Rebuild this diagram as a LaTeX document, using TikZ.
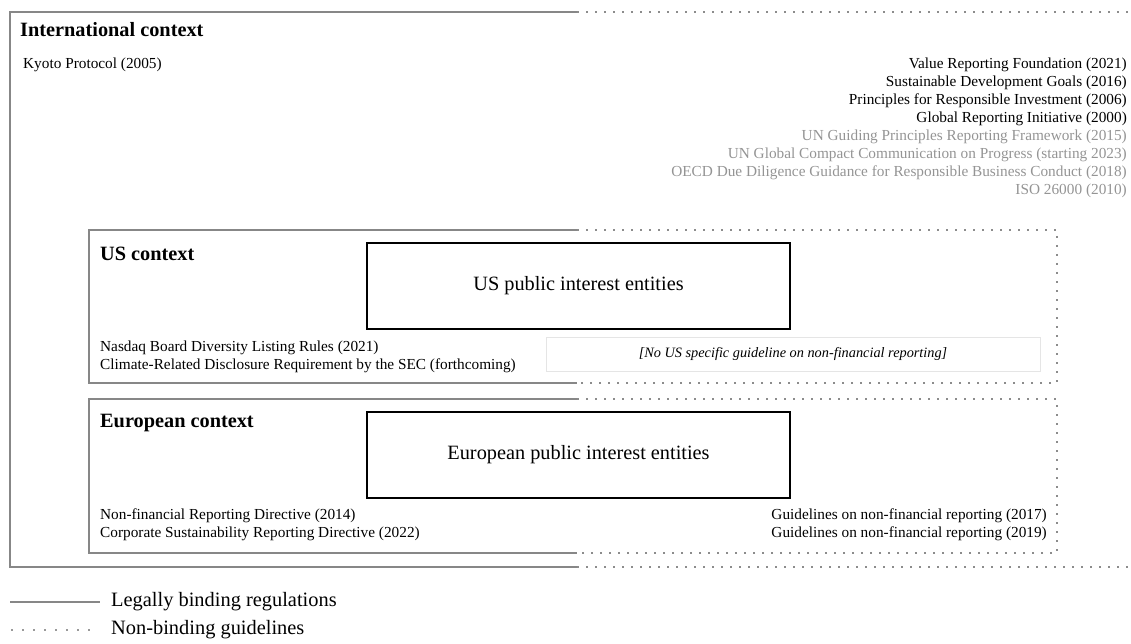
\documentclass[tikz,border=0pt]{standalone}
\usepackage{fontspec}
\setmainfont{Liberation Serif}
\begin{document}
\begin{tikzpicture}[x=1pt,y=-1pt,
  solidln/.style={draw=black!47,line width=2.8pt},
  dotln/.style={draw=black!45,line width=1.8pt,dash pattern=on 1.8pt off 7.2pt},
  legdot/.style={draw=black!40,line width=1.8pt,dash pattern=on 1.8pt off 9.2pt},
  entity/.style={draw=black,line width=2.4pt,minimum width=423pt,minimum height=86pt,font=\fontsize{20.3}{24}\selectfont},
  head/.style={anchor=west,inner sep=0pt,font=\fontsize{20.3}{24}\selectfont\bfseries},
  item/.style={inner sep=0pt,font=\fontsize{15.3}{18}\selectfont},
  gitem/.style={item,text=black!42},
  legend/.style={anchor=west,inner sep=0pt,font=\fontsize{20.4}{24}\selectfont}]
\useasboundingbox (0,0) rectangle (1131,644);
% International context
\coordinate (itl) at (10,12);
\coordinate (itm) at (577,12);
\coordinate (itr) at (1131,12);
\coordinate (ibl) at (10,567);
\coordinate (ibm) at (577,567);
\coordinate (ibr) at (1131,567);
\draw[solidln] (itm) -- (itl) -- (ibl) -- (ibm);
\draw[dotln] (itm) -- (itr);
\draw[dotln] (ibm) -- (ibr);
\node[head] (ihead) at (20,30) {International context};
\node[item,anchor=west] (kyoto) at (23,65) {Kyoto Protocol (2005)};
\node[item,anchor=east] (r1) at (1127,65) {Value Reporting Foundation (2021)};
\node[item,anchor=east] (r2) at (1127,83) {Sustainable Development Goals (2016)};
\node[item,anchor=east] (r3) at (1127,101) {Principles for Responsible Investment (2006)};
\node[item,anchor=east] (r4) at (1127,119) {Global Reporting Initiative (2000)};
\node[gitem,anchor=east] (r5) at (1127,137) {UN Guiding Principles Reporting Framework (2015)};
\node[gitem,anchor=east] (r6) at (1127,155) {UN Global Compact Communication on Progress (starting 2023)};
\node[gitem,anchor=east] (r7) at (1127,173) {OECD Due Diligence Guidance for Responsible Business Conduct (2018)};
\node[gitem,anchor=east] (r8) at (1127,191) {ISO 26000 (2010)};
% US context
\coordinate (utl) at (89,230);
\coordinate (utm) at (577,230);
\coordinate (utr) at (1057,230);
\coordinate (ubl) at (89,383);
\coordinate (ubm) at (577,383);
\coordinate (ubr) at (1057,383);
\draw[solidln] (utm) -- (utl) -- (ubl) -- (ubm);
\draw[dotln] (utm) -- (utr) -- (ubr) -- (ubm);
\node[head] (uhead) at (100,254) {US context};
\node[entity] (uent) at (578.5,286) {US public interest entities};
\node[item,anchor=west] (u1) at (100,348) {Nasdaq Board Diversity Listing Rules (2021)};
\node[item,anchor=west] (u2) at (100,366) {Climate-Related Disclosure Requirement by the SEC (forthcoming)};
\node[draw=black!10,line width=0.8pt,minimum width=494pt,minimum height=34pt,inner sep=0pt,font=\fontsize{14.3}{17}\selectfont\itshape] (unone) at (793,354) {[No US specific guideline on non-financial reporting]};
% European context
\coordinate (etl) at (89,399);
\coordinate (etm) at (577,399);
\coordinate (etr) at (1057,399);
\coordinate (ebl) at (89,553);
\coordinate (ebm) at (577,553);
\coordinate (ebr) at (1057,553);
\draw[solidln] (etm) -- (etl) -- (ebl) -- (ebm);
\draw[dotln] (etm) -- (etr) -- (ebr) -- (ebm);
\node[head] (ehead) at (100,423) {European context};
\node[entity] (eent) at (578.5,455) {European public interest entities};
\node[item,anchor=west] (e1) at (100,516) {Non-financial Reporting Directive (2014)};
\node[item,anchor=west] (e2) at (100,534) {Corporate Sustainability Reporting Directive (2022)};
\node[item,anchor=east] (e3) at (1047,516) {Guidelines on non-financial reporting (2017)};
\node[item,anchor=east] (e4) at (1047,534) {Guidelines on non-financial reporting (2019)};
% Legend
\coordinate (l1a) at (10,602);
\coordinate (l1b) at (100,602);
\coordinate (l2a) at (11,630);
\coordinate (l2b) at (92,630);
\draw[solidln] (l1a) -- (l1b);
\draw[legdot] (l2a) -- (l2b);
\node[legend] (leg1) at (111,602) {Legally binding regulations};
\node[legend] (leg2) at (111,630) {Non-binding guidelines};
\end{tikzpicture}
\end{document}
